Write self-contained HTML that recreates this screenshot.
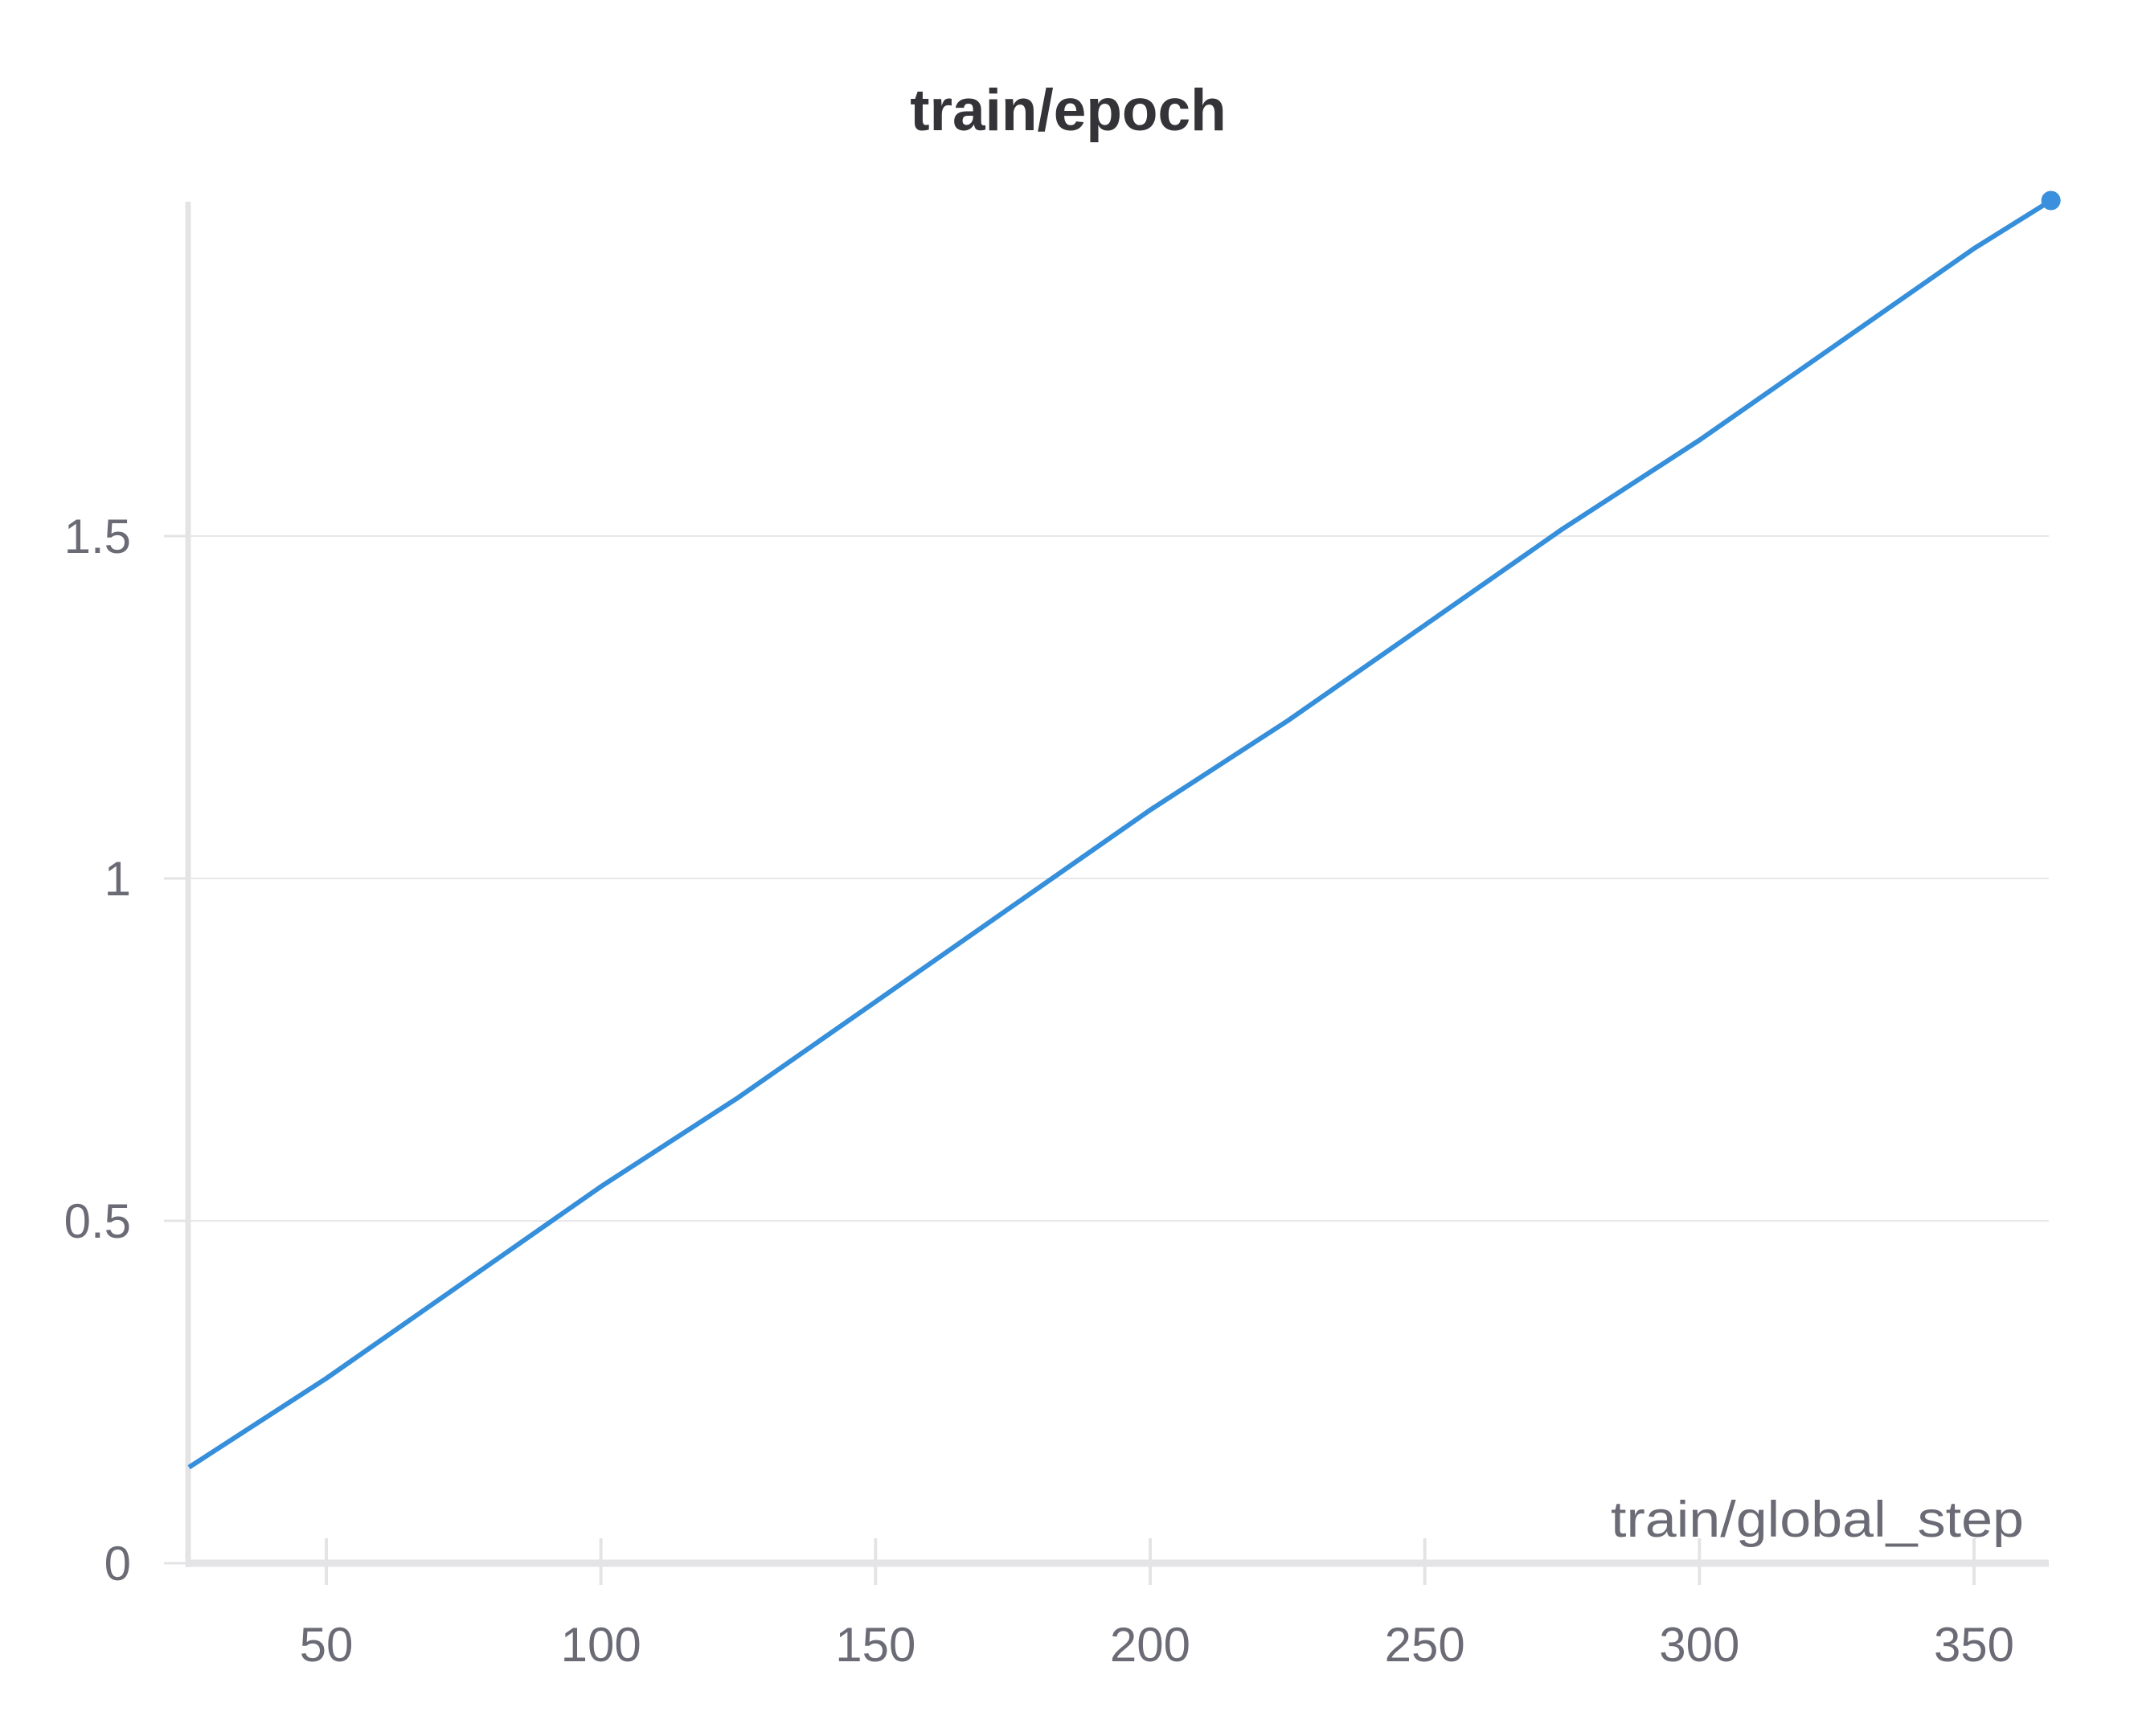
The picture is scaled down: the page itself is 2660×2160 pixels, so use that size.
<!DOCTYPE html>
<html><head><meta charset="utf-8"><style>
html,body{margin:0;padding:0;background:#fff;}
svg{display:block;font-family:"Liberation Sans",sans-serif;}
</style></head><body>
<svg id="chart" width="2660" height="2160" viewBox="0 0 2660 2160" xmlns="http://www.w3.org/2000/svg">
<text x="1329" y="162" text-anchor="middle" font-size="73" font-weight="bold" fill="#333338">train/epoch</text>
<g id="grid"></g>
<g id="axes"></g>
<g id="series"></g>
<text x="2518" y="1912" text-anchor="end" font-size="63" fill="#6b6b76" textLength="514" lengthAdjust="spacingAndGlyphs">train/global_step</text>
</svg>
<script>
const steps = [25,50,75,100,125,150,175,200,225,250,275,300,325,350,364];
const epochs = [0.14,0.27,0.41,0.55,0.68,0.82,0.96,1.10,1.23,1.37,1.51,1.64,1.78,1.92,1.99];
const xTicks = [50,100,150,200,250,300,350];
const yTicks = [0,0.5,1,1.5];
const yTickLabels = ["0","0.5","1","1.5"];

const NS="http://www.w3.org/2000/svg";
const X0=234, X1=2549, Y0=1945, YT=251;
function xs(v){return 64.3 + v*(2456-64.3)/350;}
function ys(v){return 1945 - v*852;}
function mk(tag,attrs,parent){const e=document.createElementNS(NS,tag);for(const k in attrs)e.setAttribute(k,attrs[k]);parent.appendChild(e);return e;}
const grid=document.getElementById('grid'), axes=document.getElementById('axes'), series=document.getElementById('series');

yTicks.forEach((t,i)=>{
  const y=ys(t);
  if(t>0){
    const g=mk('line',{x1:X0,x2:X1,y1:y,y2:y,stroke:'#e8e8ea','stroke-width':2},grid);
    
    
  }
  const tk=mk('line',{x1:204,x2:X0,y1:y,y2:y,stroke:'#e4e4e6','stroke-width':3},axes);
  
  
  const lb=mk('text',{x:163,y:y+21,'text-anchor':'end','font-size':60,fill:'#6b6b76'},axes);
  lb.textContent=yTickLabels[i];
  
  
});
xTicks.forEach(t=>{
  const x=xs(t);
  const tk=mk('line',{x1:x,x2:x,y1:1914,y2:1972,stroke:'#e4e4e6','stroke-width':4},axes);
  
  
  const lb=mk('text',{x:x,y:2067,'text-anchor':'middle','font-size':60,fill:'#6b6b76'},axes);
  lb.textContent=String(t);
  
  
});
const ya=mk('line',{x1:X0,x2:X0,y1:YT,y2:Y0+5,stroke:'#e4e4e6','stroke-width':7},axes);


const xa=mk('line',{x1:X0-3,x2:X1,y1:Y0,y2:Y0,stroke:'#e4e4e6','stroke-width':9},axes);



const pts=steps.map((s,i)=>xs(s).toFixed(1)+','+ys(epochs[i]).toFixed(1)).join(' ');
const pl=mk('polyline',{points:pts,fill:'none',stroke:'#358fdb','stroke-width':6,'stroke-linejoin':'round'},series);


const n=steps.length-1;
const dot=mk('circle',{cx:xs(steps[n]),cy:ys(epochs[n]),r:12,fill:'#3a90dc'},series);


</script>
</body></html>
